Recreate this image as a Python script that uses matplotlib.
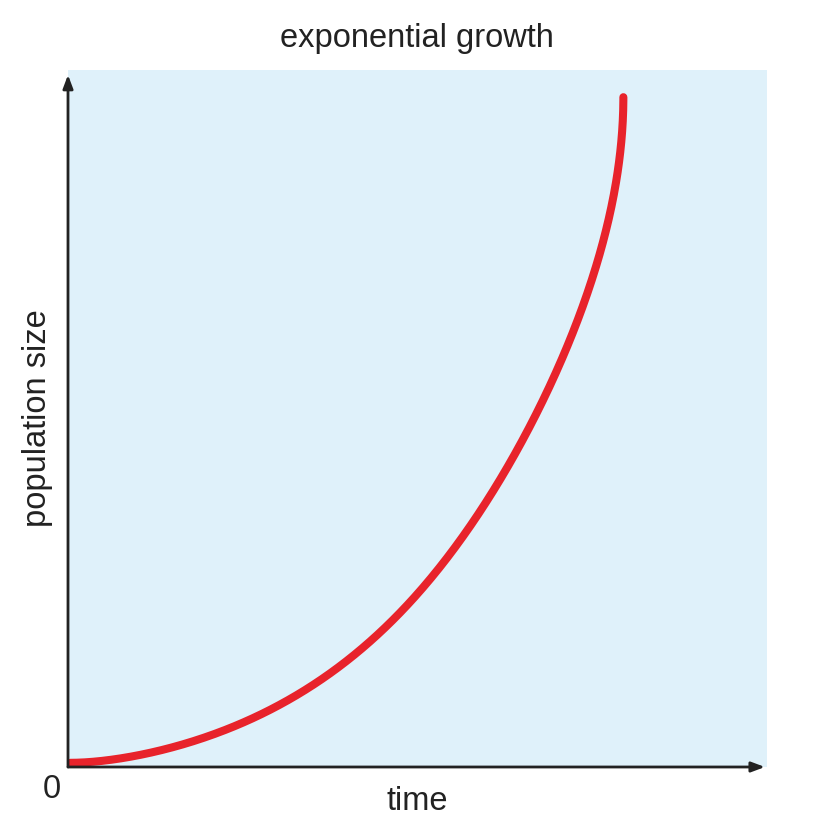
import matplotlib
matplotlib.use("Agg")
import matplotlib.pyplot as plt
import numpy as np

plt.rcParams['font.family'] = ['Liberation Sans', 'DejaVu Sans']

# curve (time, population size), axes span 0..100
time = [0.3, 6.0, 13.2, 20.3, 27.5, 34.6, 41.8, 48.9, 55.7, 60.8, 65.1, 69.0, 72.2, 76.1, 78.3, 79.3, 79.5]
population = [0.6, 1.0, 2.4, 4.5, 7.6, 11.5, 16.4, 23.5, 32.6, 40.2, 46.9, 54.1, 61.3, 74.6, 84.2, 91.4, 96.1]

title = "exponential growth"
xlabel = "time"
ylabel = "population size"
origin_label = "0"

W, H = 816, 835
fig = plt.figure(figsize=(W / 100, H / 100), dpi=100)
left, right, top, bottom = 68, 767, 70, 767
ax = fig.add_axes([left / W, 1 - bottom / H, (right - left) / W, (bottom - top) / H])
ax.set_facecolor('#dff1fa')
ax.set_xlim(0, 100)
ax.set_ylim(0, 100)
for s in ax.spines.values():
    s.set_visible(False)
ax.set_xticks([])
ax.set_yticks([])

# smooth the hand-read points (least squares; x as a function of sqrt(y - y0),
# with a vertical tangent at the top end as drawn)
t = np.array(time, dtype=float)
p = np.array(population, dtype=float)
u = np.sqrt(np.clip(p - p[0], 0, None))
w = u[-1] - u
basis = lambda ww: np.column_stack([np.ones_like(ww), ww ** 2, ww ** 3, ww ** 4, ww ** 5])
coef, *_ = np.linalg.lstsq(basis(w), t, rcond=None)
uu = np.linspace(0, u[-1], 500)
xs = np.clip(basis(u[-1] - uu) @ coef, 0, None)
ys = p[0] + uu ** 2
ax.plot(xs, ys, color='#e8232b', lw=5.8, solid_capstyle='round', zorder=3)

# axes with arrows
arrow = dict(arrowstyle='-|>,head_length=0.8,head_width=0.3', color='#222222', lw=2,
             shrinkA=0, shrinkB=0)
ax.annotate('', xy=(0, 99.3), xytext=(0, 0), arrowprops=arrow, annotation_clip=False)
ax.annotate('', xy=(99.7, 0), xytext=(0, 0), arrowprops=arrow, annotation_clip=False)

fig.text(417 / W, 1 - 39 / H, title, ha='center', va='center', fontsize=23.5, color='#222222')
fig.text(417 / W, 1 - 801 / H, xlabel, ha='center', va='center', fontsize=23.5, color='#222222')
fig.text(38 / W, 1 - 418 / H, ylabel, ha='center', va='center', rotation=90, fontsize=23.5, color='#222222')
fig.text(52 / W, 1 - 789 / H, origin_label, ha='center', va='center', fontsize=23.5, color='#222222')

fig.savefig('out.png', dpi=100)
